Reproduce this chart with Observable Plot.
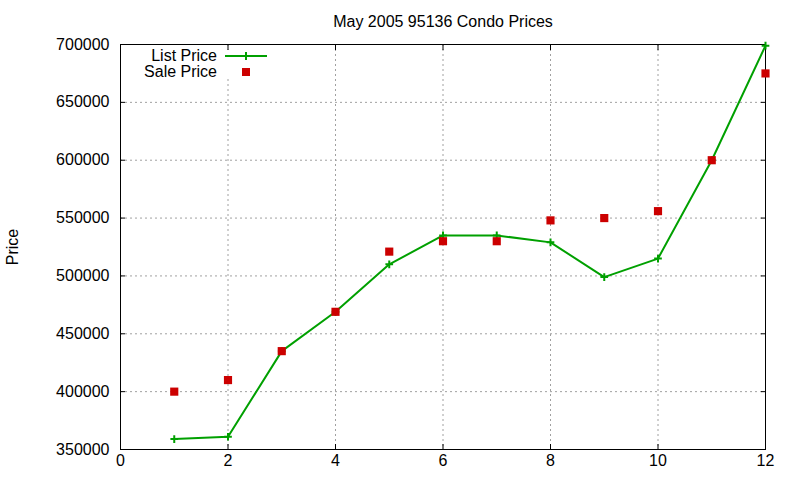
<!DOCTYPE html>
<html>
<head>
<meta charset="utf-8">
<script src="https://cdn.jsdelivr.net/npm/d3@7"></script>
<script src="https://cdn.jsdelivr.net/npm/@observablehq/plot@0.6"></script>
<style>
  html, body { margin: 0; padding: 0; background: #fff; }
  #chart { position: relative; width: 800px; height: 480px; }
</style>
</head>
<body>
<div id="chart"></div>
<script>
const title = "May 2005 95136 Condo Prices";
const yLabel = "Price";
const seriesNames = ["List Price", "Sale Price"];
const months = [1, 2, 3, 4, 5, 6, 7, 8, 9, 10, 11, 12];
const listPrice = [359000, 361000, 435000, 469000, 510000, 535000, 535000, 529000, 499000, 515000, 600000, 699000];
const salePrice = [400000, 410000, 435000, 469000, 521000, 530000, 530000, 548000, 550000, 556000, 600000, 675000];
const xTicks = [0, 2, 4, 6, 8, 10, 12];
const yTicks = [350000, 400000, 450000, 500000, 550000, 600000, 650000, 700000];

const green = "#00a000";
const red = "#cc0000";
const font = "'Liberation Sans', Arial, sans-serif";

const listData = months.map((m, i) => ({month: m, price: listPrice[i]}));
const saleData = months.map((m, i) => ({month: m, price: salePrice[i]}));
const gridDash = "2,3";
const noText = () => "";

const svg = Plot.plot({
  width: 800,
  height: 480,
  marginLeft: 120,
  marginRight: 35,
  marginTop: 44,
  marginBottom: 31,
  style: {fontFamily: font, fontSize: "16px", background: "#fff", color: "#000"},
  x: {domain: [0, 12]},
  y: {domain: [350000, 700000]},
  marks: [
    Plot.ruleX(xTicks.slice(1, -1), {stroke: "#a0a0a0", strokeDasharray: gridDash}),
    Plot.ruleY(yTicks.slice(1, -1), {stroke: "#a0a0a0", strokeDasharray: gridDash}),
    Plot.axisX(xTicks, {anchor: "bottom", tickSize: 0, tickPadding: 5, label: null, fontSize: 16, tickFormat: d => String(d)}),
    Plot.axisY(yTicks, {anchor: "left", tickSize: 0, tickPadding: 11, label: null, fontSize: 16, tickFormat: d => String(d)}),
    Plot.axisX(xTicks, {anchor: "bottom", tickSize: -5, label: null, tickFormat: noText}),
    Plot.axisX(xTicks, {anchor: "top", tickSize: -5, label: null, tickFormat: noText}),
    Plot.axisY(yTicks, {anchor: "left", tickSize: -5, label: null, tickFormat: noText}),
    Plot.axisY(yTicks, {anchor: "right", tickSize: -5, label: null, tickFormat: noText}),
    Plot.frame({stroke: "#000", strokeWidth: 1}),
    Plot.line(listData, {x: "month", y: "price", stroke: green, strokeWidth: 2}),
    Plot.dot(listData, {x: "month", y: "price", symbol: "plus", r: 2.6, stroke: green, strokeWidth: 2}),
    Plot.dot(saleData, {x: "month", y: "price", symbol: "square", r: 4.6, fill: red, stroke: "none"}),
    Plot.text([title], {frameAnchor: "top", lineAnchor: "middle", dy: -23, fontSize: 16}),
    Plot.text([yLabel], {frameAnchor: "left", textAnchor: "middle", lineAnchor: "middle", dx: -108, rotate: -90, fontSize: 16})
  ]
});
document.getElementById("chart").appendChild(svg);

// Legend (gnuplot-style key, inside the plot, top-left)
const key = d3.select(svg).append("g").attr("font-family", font).attr("font-size", 16);
key.append("rect").attr("x", 140).attr("y", 50).attr("width", 130).attr("height", 29).attr("fill", "#fff");
key.append("text").attr("x", 217).attr("y", 61).attr("text-anchor", "end").text(seriesNames[0]);
key.append("line").attr("x1", 225).attr("x2", 267).attr("y1", 56).attr("y2", 56).attr("stroke", green).attr("stroke-width", 2);
key.append("path").attr("d", "M242,56H250M246,52V60").attr("stroke", green).attr("stroke-width", 2);
key.append("text").attr("x", 217).attr("y", 77).attr("text-anchor", "end").text(seriesNames[1]);
key.append("rect").attr("x", 242).attr("y", 68).attr("width", 8).attr("height", 8).attr("fill", red);
</script>
</body>
</html>
